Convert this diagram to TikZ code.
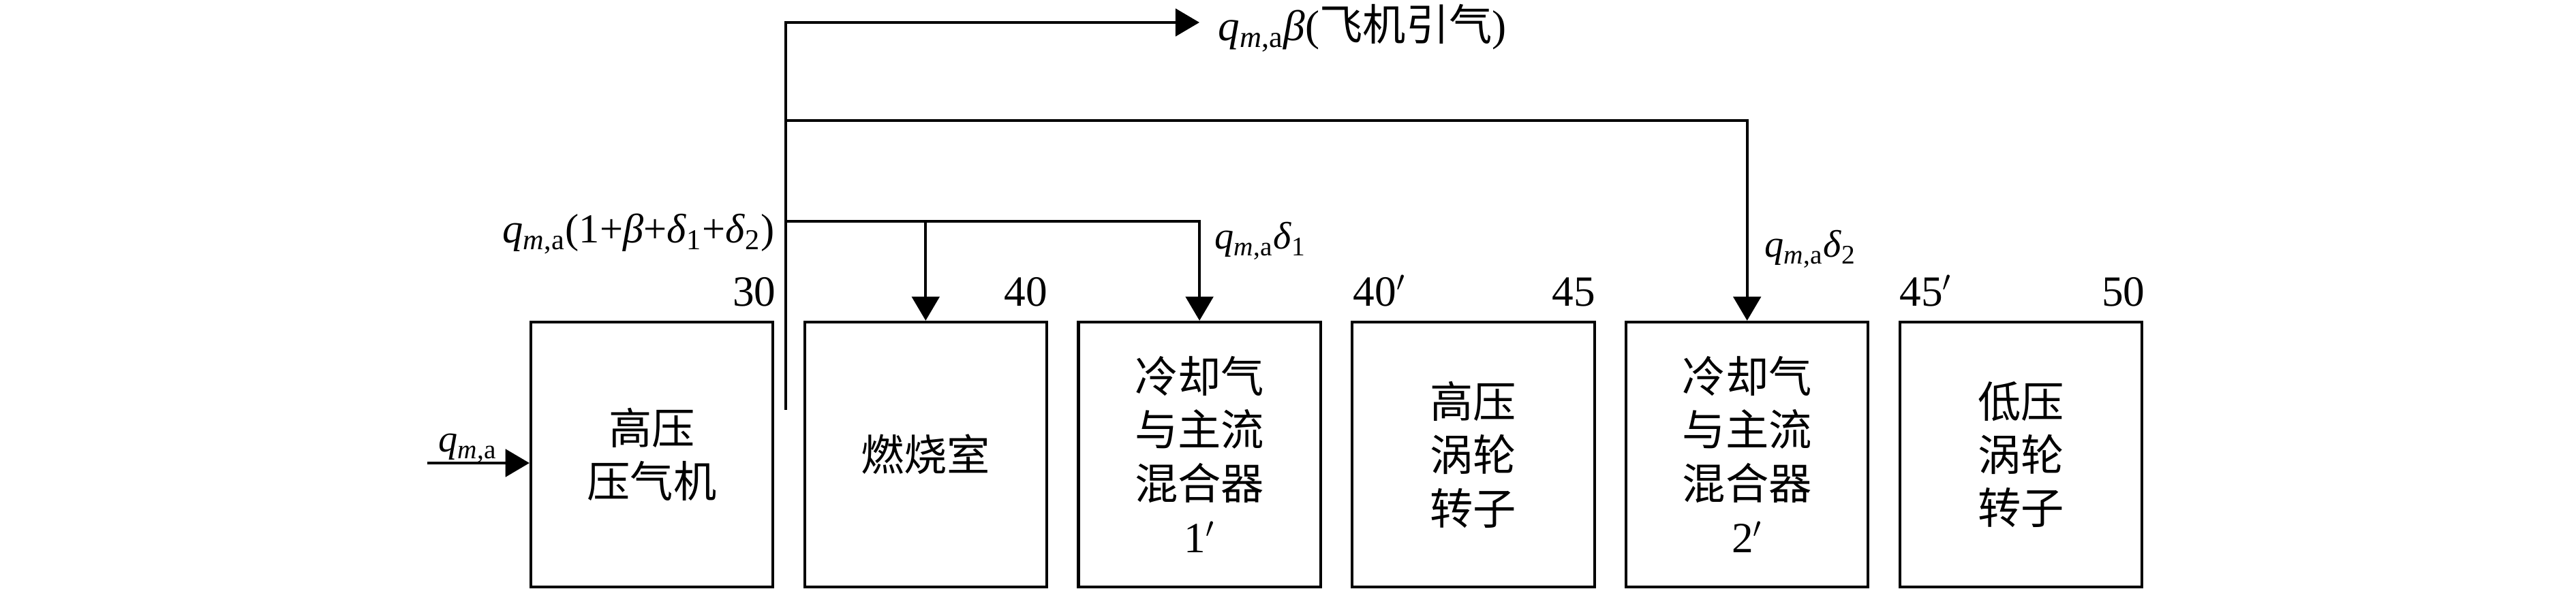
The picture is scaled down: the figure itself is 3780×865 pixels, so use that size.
\documentclass[tikz,border=0pt]{standalone}
\usepackage{fontspec}
\setmainfont{Liberation Serif}
\newfontfamily\cjk{Noto Sans CJK SC}
\usepackage{amsmath}
\usetikzlibrary{arrows.meta,calc}
\newcommand{\qma}{\textit{q}$_{\text{\textit{m},a}}$}
\tikzset{
  blk/.style={draw, line width=1.15pt, minimum width=3.55cm, minimum height=3.89cm, inner sep=0pt, align=center,
    font=\fontsize{18}{22.3}\selectfont\cjk},
  arr/.style={line width=1.1pt, -{Triangle[length=10pt,width=11.5pt]}},
  num/.style={inner sep=0pt, font=\fontsize{18}{20}\selectfont},
  lab/.style={inner sep=0pt, font=\fontsize{16}{18}\selectfont},
  midlab/.style={inner sep=0pt, font=\fontsize{17.2}{19}\selectfont},
  biglab/.style={inner sep=0pt, font=\fontsize{18}{20}\selectfont}
}
\begin{document}
\begin{tikzpicture}[x=0.01cm,y=-0.01cm]
\useasboundingbox (0,0) rectangle (3780,865);
% blocks
\node[blk] (hpc)  at (956.5,667.5)  {高压\\压气机};
\node[blk] (comb) at (1358.3,667.5) {燃烧室};
\node[blk] (mix1) at (1760.1,667.5) {冷却气\\与主流\\混合器\\{\rmfamily 1$'$}};
\node[blk] (hpt)  at (2161.9,667.5) {高压\\涡轮\\转子};
\node[blk] (mix2) at (2563.7,667.5) {冷却气\\与主流\\混合器\\{\rmfamily 2$'$}};
\node[blk] (lpt)  at (2965.5,667.5) {低压\\涡轮\\转子};
% station numbers
\node[num, anchor=base east] (n30)  at ($(hpc.north east)+(3,-21)$) {30};
\node[num, anchor=base east] (n40)  at ($(comb.north east)+(0,-21)$) {40};
\node[num, anchor=base west] (n40p) at ($(hpt.north west)+(3,-21)$) {40$'$};
\node[num, anchor=base east] (n45)  at ($(hpt.north east)+(0,-21)$) {45};
\node[num, anchor=base west] (n45p) at ($(lpt.north west)+(1,-21)$) {45$'$};
\node[num, anchor=base east] (n50)  at ($(lpt.north east)+(3,-21)$) {50};
% inlet
\coordinate (in) at (627,680);
\draw[arr] (in) -- (in -| hpc.west);
\node[lab, anchor=base west] (qin) at (643,664) {\qma};
% bleed trunk
\coordinate (tb) at (1153,602);
\coordinate (bleed) at (1760,33);
\coordinate (j2) at (1153,177);
\coordinate (j1) at (1153,325);
\draw[arr] (tb) |- (bleed);
\draw[arr] (j2) -| (mix2.north);
\draw[arr] (j1) -| (mix1.north);
\draw[arr] (j1 -| comb.north) -- (comb.north);
% labels
\node[biglab, anchor=base west] (bl) at (1787,60) {\qma\textit{β}({\cjk 飞机引气})};
\node[midlab, anchor=base east] (tot) at (1137,357) {\qma(1+\textit{β}+\textit{δ}$_{\text{1}}$+\textit{δ}$_{\text{2}}$)};
\node[lab, anchor=base west] (d1) at (1782,366) {\qma\textit{δ}$_{\text{1}}$};
\node[lab, anchor=base west] (d2) at (2589,378) {\qma\textit{δ}$_{\text{2}}$};
\end{tikzpicture}
\end{document}
